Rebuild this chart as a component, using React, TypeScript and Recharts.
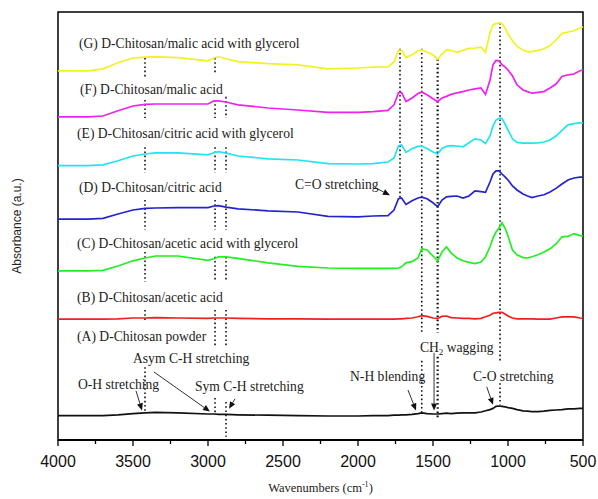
import React from 'react';
import { Label, Line, LineChart, ReferenceArea, ReferenceDot, ReferenceLine, XAxis, YAxis } from 'recharts';

// wavenumber grid (cm-1), shared by every spectrum
const wavenumbers = [
  4000, 3800, 3700, 3600, 3500, 3420, 3350, 3200, 3000, 2960,
  2930, 2880, 2800, 2600, 2400, 2200, 2000, 1900, 1800, 1760,
  1730, 1710, 1680, 1640, 1600, 1575, 1540, 1500, 1469, 1440,
  1410, 1380, 1340, 1300, 1260, 1220, 1180, 1150, 1120, 1100,
  1080, 1060, 1040, 1020, 1000, 970, 940, 900, 870, 840,
  800, 760, 720, 680, 640, 600, 560, 520, 500,
];

// absorbance (a.u.), spectra already offset as stacked in the figure
const chitosanPowder = [
  6.1, 6.1, 6.1, 6.3, 6.6, 6.8, 6.9, 6.8, 6.5, 6.5,
  6.4, 6.4, 6.3, 6.2, 6.1, 6.0, 6.0, 6.1, 6.1, 6.2,
  6.2, 6.3, 6.3, 6.4, 6.6, 6.8, 6.6, 6.5, 6.5, 6.6,
  6.7, 6.6, 6.7, 6.8, 6.8, 6.8, 7.0, 7.3, 7.6, 7.9,
  8.4, 8.5, 8.4, 8.3, 8.1, 7.9, 7.6, 7.3, 7.2, 7.1,
  7.1, 7.2, 7.4, 7.5, 7.6, 7.8, 7.8, 7.9, 7.9,
];
const chitosanAcetic = [
  30.2, 30.2, 30.2, 30.3, 30.5, 30.5, 30.6, 30.5, 30.4, 30.5,
  30.5, 30.5, 30.4, 30.3, 30.3, 30.2, 30.2, 30.2, 30.2, 30.2,
  30.3, 30.3, 30.4, 30.5, 30.8, 31.1, 30.9, 30.5, 30.4, 30.9,
  31.0, 30.6, 30.5, 30.4, 30.4, 30.3, 30.4, 30.8, 31.2, 31.7,
  31.8, 31.9, 31.9, 31.5, 31.0, 30.5, 30.3, 30.3, 30.3, 30.3,
  30.2, 30.2, 30.2, 30.5, 30.8, 30.8, 30.8, 30.5, 30.4,
];
const chitosanAceticGlycerol = [
  42.3, 42.3, 42.4, 43.5, 44.8, 45.5, 46.0, 46.0, 44.9, 45.3,
  45.8, 45.8, 45.4, 44.3, 43.4, 43.0, 42.9, 42.9, 42.9, 42.9,
  43.0, 43.3, 44.3, 44.6, 45.5, 47.8, 47.5, 46.0, 44.8, 47.0,
  48.3, 46.8, 45.5, 44.8, 44.4, 44.1, 44.5, 45.8, 48.3, 50.5,
  52.0, 53.0, 54.3, 53.0, 51.0, 47.5, 46.3, 45.6, 45.5, 45.8,
  46.3, 47.0, 47.8, 49.0, 50.8, 50.9, 51.6, 51.1, 51.0,
];
const chitosanCitric = [
  55.2, 55.2, 55.4, 56.5, 57.5, 57.9, 58.0, 58.1, 58.1, 58.5,
  58.6, 58.2, 57.8, 57.3, 57.0, 55.9, 55.8, 56.0, 56.1, 57.5,
  60.3, 60.5, 58.9, 59.8, 60.5, 60.7, 60.3, 59.3, 58.3, 60.0,
  60.8, 60.9, 61.0, 60.5, 61.0, 62.3, 62.1, 61.9, 64.5, 66.5,
  67.3, 67.3, 66.5, 65.8, 65.0, 63.5, 62.5, 61.5, 61.0, 60.6,
  61.0, 61.3, 62.0, 62.9, 64.0, 65.0, 65.5, 65.7, 65.7,
];
const chitosanCitricGlycerol = [
  68.6, 68.6, 68.8, 69.8, 71.0, 71.5, 71.8, 71.8, 71.3, 71.8,
  72.1, 71.7, 71.0, 70.3, 70.0, 69.1, 69.0, 69.1, 69.5, 70.5,
  73.5, 73.8, 71.9, 72.8, 73.4, 73.5, 72.9, 72.0, 71.5, 72.9,
  73.4, 73.6, 73.5, 73.3, 74.3, 75.3, 75.0, 74.1, 76.0, 78.5,
  80.0, 80.4, 80.4, 79.0, 77.5, 75.3, 74.4, 74.2, 74.2, 74.2,
  74.3, 74.5, 75.0, 76.0, 77.4, 78.8, 79.1, 79.3, 79.3,
];
const chitosanMalic = [
  80.8, 80.8, 81.0, 82.3, 83.5, 83.9, 84.0, 84.0, 84.0, 84.8,
  84.8, 84.5, 83.8, 83.0, 82.5, 81.9, 81.9, 82.1, 82.4, 83.8,
  86.8, 86.9, 84.6, 85.5, 86.6, 87.0, 86.3, 85.3, 84.6, 85.5,
  85.9, 86.4, 86.8, 87.1, 87.5, 87.8, 88.0, 86.4, 90.0, 93.8,
  94.9, 94.8, 93.8, 93.3, 92.5, 91.0, 88.8, 87.5, 87.1, 86.7,
  86.9, 87.1, 88.0, 89.0, 90.9, 91.3, 91.5, 92.3, 92.5,
];
const chitosanMalicGlycerol = [
  92.3, 92.3, 92.8, 94.3, 95.5, 95.7, 95.8, 95.6, 94.8, 95.5,
  95.8, 95.3, 94.6, 94.1, 93.8, 92.8, 93.0, 93.2, 93.3, 94.5,
  97.5, 97.5, 95.6, 96.3, 97.3, 97.5, 97.0, 96.3, 95.2, 96.5,
  97.5, 97.4, 96.9, 97.4, 97.9, 98.0, 98.2, 96.9, 101.8, 103.8,
  104.1, 104.3, 104.1, 103.0, 101.5, 99.8, 98.4, 97.5, 97.1, 97.1,
  97.4, 97.8, 98.6, 100.0, 101.6, 102.0, 102.3, 103.0, 103.3,
];

const xTicks = [4000, 3750, 3500, 3250, 3000, 2750, 2500, 2250, 2000, 1750, 1500, 1250, 1000, 750, 500];

const series = [
  { key: 'A', values: chitosanPowder, color: '#111111' },
  { key: 'B', values: chitosanAcetic, color: '#ee2020' },
  { key: 'C', values: chitosanAceticGlycerol, color: '#22ee22' },
  { key: 'D', values: chitosanCitric, color: '#2424cc' },
  { key: 'E', values: chitosanCitricGlycerol, color: '#22e4ee' },
  { key: 'F', values: chitosanMalic, color: '#ee22ee' },
  { key: 'G', values: chitosanMalicGlycerol, color: '#f2f220' },
];

const data = wavenumbers.map((w, i) => {
  const row: Record<string, number> = { w };
  series.forEach((s) => {
    row[s.key] = s.values[i];
  });
  return row;
});

// text placed on the plot, anchored at its left/middle point
const plotLabels = [
  { text: '(G) D-Chitosan/malic acid with glycerol', w: 3860, y: 99.2 },
  { text: '(F) D-Chitosan/malic acid', w: 3853, y: 87.8 },
  { text: '(E) D-Chitosan/citric acid with glycerol', w: 3873, y: 76.8 },
  { text: '(D) D-Chitosan/citric acid', w: 3860, y: 63.2 },
  { text: '(C) D-Chitosan/acetic acid with glycerol', w: 3873, y: 49.2 },
  { text: '(B) D-Chitosan/acetic acid', w: 3873, y: 35.8 },
  { text: '(A) D-Chitosan powder', w: 3873, y: 26 },
  { text: 'Asym C-H stretching', w: 3500, y: 20.5 },
  { text: 'O-H stretching', w: 3867, y: 14 },
  { text: 'Sym C-H stretching', w: 3087, y: 13.5 },
  { text: 'N-H blending', w: 2053, y: 16 },
  { text: 'CH|2| wagging', w: 1587, y: 23.2 },
  { text: 'C-O stretching', w: 1233, y: 16 },
  { text: 'C=O stretching', w: 2420, y: 64 },
];

const arrows = [
  { from: [3480, 12.3], to: [3440, 7.4] },
  { from: [3360, 17], to: [2987, 7.1] },
  { from: [2820, 10.3], to: [2860, 7.8] },
  { from: [1667, 12.5], to: [1613, 7.4] },
  { from: [1493, 21.8], to: [1493, 7.4] },
  { from: [1142, 13.3], to: [1100, 8.8] },
  { from: [1887, 63.1], to: [1787, 61.2] },
];

// dotted band markers, broken where the labels sit
const bandMarkers = [
  { w: 3420, spans: [[95.5, 90.8], [85, 80.5], [73.2, 66.8], [60, 52.5], [47, 39.5], [32.5, 29.5], [18.2, 6.8]] },
  { w: 2953, spans: [[95.5, 91.8], [85, 80.5], [73.2, 66.8], [60, 52.5], [45.8, 39.5], [32.5, 23.2], [10.5, 6.8]] },
  { w: 2880, spans: [[85.8, 80.5], [73.2, 66.8], [60, 52.5], [45.8, 39.5], [32.5, 23.2], [9.5, 0.8]] },
  { w: 1720, spans: [[97.8, 60.5]] },
  { w: 1575, spans: [[97.8, 26.8], [19.8, 6.5]] },
  { w: 1469, spans: [[95.2, 26.8], [20.8, 5.5]] },
  { w: 1053, spans: [[104.3, 19.5], [14.2, 8.8]] },
];

const serif = '"Liberation Serif", "Times New Roman", serif';
const sans = '"Liberation Sans", Arial, sans-serif';

const renderPlotText = (text: string) => (props: any) => {
  const { viewBox } = props;
  const parts = text.split('|');
  return (
    <text x={viewBox.x} y={viewBox.y} dy="0.35em" fontFamily={serif} fontSize={13.6} fill="#222">
      {parts.length === 1 ? (
        text
      ) : (
        <>
          <tspan>{parts[0]}</tspan>
          <tspan dy={3} fontSize={9}>{parts[1]}</tspan>
          <tspan dy={-3}>{parts[2]}</tspan>
        </>
      )}
    </text>
  );
};

const ArrowShape = (props: any) => {
  const { x1, y1, x2, y2 } = props;
  const ang = Math.atan2(y2 - y1, x2 - x1);
  const bx = x2 - 7 * Math.cos(ang);
  const by = y2 - 7 * Math.sin(ang);
  const px = -Math.sin(ang) * 3;
  const py = Math.cos(ang) * 3;
  return (
    <g>
      <line x1={x1} y1={y1} x2={bx} y2={by} stroke="#333" strokeWidth={1} />
      <polygon points={`${x2},${y2} ${bx + px},${by + py} ${bx - px},${by - py}`} fill="#111" />
    </g>
  );
};

const WaveTick = (props: any) => {
  const { x, y, payload } = props;
  const major = payload.value % 500 === 0;
  return (
    <g>
      <line x1={x} x2={x} y1={y} y2={y + (major ? 6 : 4)} stroke="#000" strokeWidth={1.3} />
      {major && (
        <text x={x} y={y + 27} textAnchor="middle" fontFamily={sans} fontSize={16} fill="#111">
          {payload.value}
        </text>
      )}
    </g>
  );
};

const App: React.FC = () => (
  <div>
    <style>{'body{margin:0}'}</style>
    <LineChart width={598} height={499} data={data} margin={{ top: 12, right: 15, bottom: 0, left: 0 }}>
      <XAxis
        dataKey="w"
        type="number"
        domain={[500, 4000]}
        reversed
        ticks={xTicks}
        interval={0}
        tick={<WaveTick />}
        tickLine={false}
        tickSize={0}
        tickMargin={0}
        height={59}
        axisLine={{ stroke: '#000', strokeWidth: 2 }}
      >
        <Label
          content={(p: any) => (
            <text
              x={p.viewBox.x + p.viewBox.width / 2}
              y={p.viewBox.y + 52}
              textAnchor="middle"
              fontFamily={serif}
              fontSize={12.5}
              fill="#222"
            >
              <tspan>Wavenumbers (cm</tspan>
              <tspan dy={-5} fontSize={8}>-1</tspan>
              <tspan dy={5}>)</tspan>
            </text>
          )}
        />
      </XAxis>
      <YAxis type="number" domain={[0, 107]} width={58} tick={false} tickLine={false} axisLine={false}>
        <Label
          content={(p: any) => {
            const cx = p.viewBox.x + 17;
            const cy = p.viewBox.y + p.viewBox.height / 2;
            return (
              <text
                x={cx}
                y={cy}
                transform={`rotate(-90 ${cx} ${cy})`}
                textAnchor="middle"
                dy="0.35em"
                fontFamily={sans}
                fontSize={12}
                fill="#222"
              >
                Absorbance (a.u.)
              </text>
            );
          }}
        />
      </YAxis>
      <ReferenceArea x1={500} x2={4000} y1={0} y2={107} fill="none" stroke="#000" strokeWidth={1.5} />
      {bandMarkers.map((m) =>
        m.spans.map((s, i) => (
          <ReferenceLine
            key={`${m.w}-${i}`}
            segment={[{ x: m.w, y: s[0] }, { x: m.w, y: s[1] }]}
            stroke="#111"
            strokeWidth={m.w === 1469 ? 2.2 : 1.6}
            strokeDasharray="1.6 2.6"
          />
        ))
      )}
      {series.map((s) => (
        <Line
          key={s.key}
          dataKey={s.key}
          stroke={s.color}
          strokeWidth={1.7}
          dot={false}
          type="linear"
          isAnimationActive={false}
        />
      ))}
      {arrows.map((a, i) => (
        <ReferenceLine
          key={`arrow-${i}`}
          segment={[{ x: a.from[0], y: a.from[1] }, { x: a.to[0], y: a.to[1] }]}
          shape={ArrowShape}
        />
      ))}
      {plotLabels.map((l) => (
        <ReferenceDot key={l.text} x={l.w} y={l.y} r={0} fill="none" stroke="none">
          <Label content={renderPlotText(l.text)} />
        </ReferenceDot>
      ))}
    </LineChart>
  </div>
);

export default App;
